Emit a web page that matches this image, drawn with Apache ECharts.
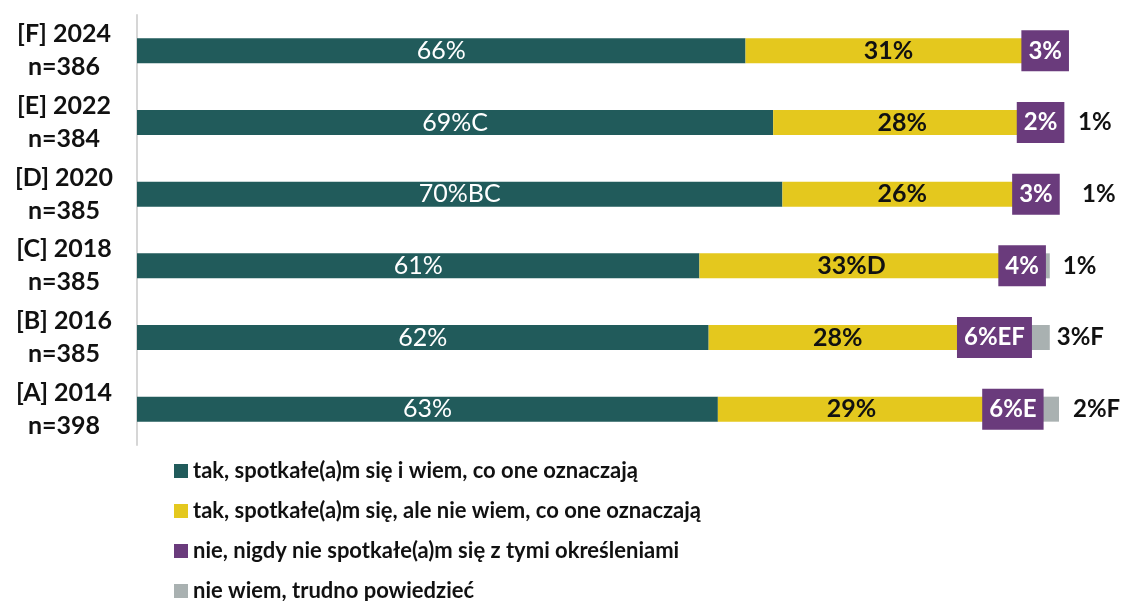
<!DOCTYPE html>
<html>
<head>
<meta charset="utf-8">
<script src="https://cdn.jsdelivr.net/npm/echarts@6/dist/echarts.min.js"></script>
<style>
  html, body { margin: 0; padding: 0; background: #fff; }
  #chart { width: 1130px; height: 601px; }
</style>
</head>
<body>
<div id="chart"></div>
<script>
// kategorie (od góry)
var categories = ['[F] 2024\nn=386', '[E] 2022\nn=384', '[D] 2020\nn=385', '[C] 2018\nn=385', '[B] 2016\nn=385', '[A] 2014\nn=398'];

// odpowiedzi, %
var knowValues    = [66, 69, 70, 61, 62, 63];
var notKnowValues = [31, 28, 26, 33, 28, 29];
var neverValues   = [3, 2, 3, 4, 6, 6];
var dkValues      = [0, 1, 1, 1, 3, 2];

// oznaczenia istotnych różnic
var knowMarks    = ['', 'C', 'BC', '', '', ''];
var notKnowMarks = ['', '', '', 'D', '', ''];
var neverMarks   = ['', '', '', '', 'EF', 'E'];
var dkMarks      = ['', '', '', '', 'F', 'F'];

var seriesNames = [
    'tak, spotkałe(a)m się i wiem, co one oznaczają',
    'tak, spotkałe(a)m się, ale nie wiem, co one oznaczają',
    'nie, nigdy nie spotkałe(a)m się z tymi określeniami',
    'nie wiem, trudno powiedzieć'
];

var colors = ['#215b5b', '#e4c81e', '#6a3b7c', '#a9b1b1'];
var font = 'Lato, "DejaVu Sans", sans-serif';

// odstęp etykiety "nie wiem" od końca słupka
var dkLabelGap = [0, 19, 23, 13, 7, 14];

function fmt(marks) {
    return function (p) {
        if (!p.value) return '';
        return p.value + '%' + marks[p.dataIndex];
    };
}

var chart = echarts.init(document.getElementById('chart'));

var option = {
    animation: false,
    color: colors,
    grid: { left: 137, right: 71, top: 15, bottom: 156 },
    xAxis: { type: 'value', min: 0, max: 100, show: false },
    yAxis: {
        type: 'category',
        data: categories,
        inverse: true,
        axisLine: { show: true, lineStyle: { color: '#d6d6d6', width: 2 } },
        axisTick: { show: false },
        axisLabel: {
            align: 'center',
            margin: 73,
            color: '#111',
            fontFamily: font,
            fontWeight: 'bold',
            fontSize: 25,
            lineHeight: 33
        }
    },
    legend: {
        orient: 'vertical',
        left: 169,
        top: 455,
        height: 160,
        itemWidth: 14,
        itemHeight: 14,
        itemGap: 18,
        icon: 'rect',
        textStyle: { color: '#111', fontFamily: font, fontWeight: 'bold', fontSize: 22 },
        data: seriesNames
    },
    series: [
        {
            name: seriesNames[0], type: 'bar', stack: 'all', barWidth: 25,
            data: knowValues,
            label: {
                show: true, position: 'inside', color: '#fff',
                fontFamily: font, fontSize: 25, formatter: fmt(knowMarks)
            }
        },
        {
            name: seriesNames[1], type: 'bar', stack: 'all', barWidth: 25,
            data: notKnowValues,
            label: {
                show: true, position: 'inside', color: '#111',
                fontFamily: font, fontWeight: 'bold', fontSize: 25, formatter: fmt(notKnowMarks)
            }
        },
        {
            name: seriesNames[2], type: 'bar', stack: 'all', barWidth: 25, z: 3,
            data: neverValues,
            label: {
                show: true, position: 'inside', color: '#fff',
                backgroundColor: colors[2], padding: [9, 7, 8, 7],
                fontFamily: font, fontWeight: 'bold', fontSize: 24, formatter: fmt(neverMarks)
            }
        },
        {
            name: seriesNames[3], type: 'bar', stack: 'all', barWidth: 25,
            data: dkValues.map(function (v, i) {
                return { value: v, label: { distance: dkLabelGap[i] } };
            }),
            label: {
                show: true, position: 'right', color: '#111',
                fontFamily: font, fontWeight: 'bold', fontSize: 24, formatter: fmt(dkMarks)
            }
        }
    ]
};

chart.setOption(option);
</script>
</body>
</html>
